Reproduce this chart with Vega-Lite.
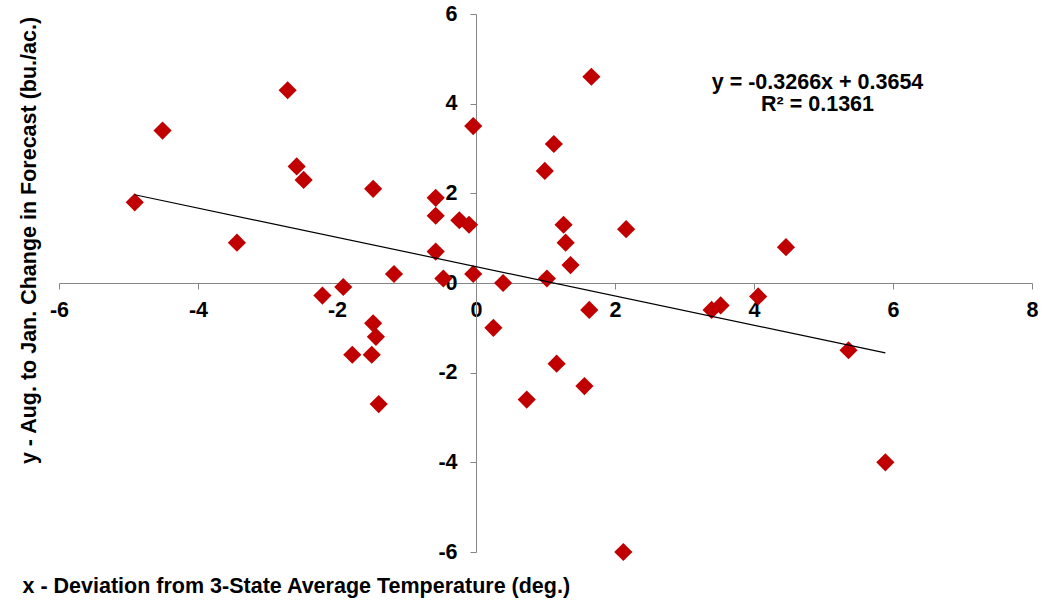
{
  "$schema": "https://vega.github.io/schema/vega-lite/v6.json",
  "autosize": {"type": "none"},
  "width": 973,
  "height": 538,
  "padding": {"left": 59, "top": 14, "right": 29, "bottom": 55},
  "background": "white",
  "config": {
    "view": {"stroke": null},
    "font": "Liberation Sans",
    "axis": {
      "grid": false,
      "domainColor": "#868686",
      "tickColor": "#868686",
      "tickSize": 6,
      "labelFont": "Liberation Sans",
      "labelFontSize": 21.5,
      "labelFontWeight": "bold",
      "labelColor": "black",
      "titleFont": "Liberation Sans",
      "titleFontSize": 21.5,
      "titleFontWeight": "bold",
      "titleColor": "black",
      "labelFlush": false,
      "labelOverlap": false,
      "labelExpr": "datum.value + ''"
    }
  },
  "datasets": {
    "points": [
      {"temp": -4.91, "change": 1.8},
      {"temp": -4.51, "change": 3.4},
      {"temp": -2.71, "change": 4.3},
      {"temp": -2.58, "change": 2.6},
      {"temp": -2.48, "change": 2.3},
      {"temp": -3.44, "change": 0.9},
      {"temp": -1.91, "change": -0.09},
      {"temp": -2.21, "change": -0.28},
      {"temp": -1.48, "change": 2.1},
      {"temp": -0.58, "change": 1.9},
      {"temp": -0.58, "change": 1.5},
      {"temp": -0.24, "change": 1.4},
      {"temp": -0.1, "change": 1.3},
      {"temp": -0.04, "change": 3.5},
      {"temp": -0.58, "change": 0.7},
      {"temp": -1.18, "change": 0.2},
      {"temp": -0.47, "change": 0.1},
      {"temp": -0.04, "change": 0.2},
      {"temp": 0.39, "change": 0.0},
      {"temp": 1.02, "change": 0.1},
      {"temp": 0.99, "change": 2.5},
      {"temp": 1.12, "change": 3.1},
      {"temp": 1.66, "change": 4.6},
      {"temp": 1.26, "change": 1.3},
      {"temp": 1.29, "change": 0.9},
      {"temp": 1.36, "change": 0.4},
      {"temp": 2.16, "change": 1.2},
      {"temp": 4.46, "change": 0.8},
      {"temp": 4.06, "change": -0.3},
      {"temp": 3.39, "change": -0.6},
      {"temp": 3.52, "change": -0.5},
      {"temp": 5.36, "change": -1.5},
      {"temp": 5.89, "change": -4.0},
      {"temp": 1.63, "change": -0.6},
      {"temp": 0.25, "change": -1.0},
      {"temp": 1.16, "change": -1.8},
      {"temp": 1.56, "change": -2.3},
      {"temp": 0.73, "change": -2.6},
      {"temp": 2.12, "change": -6.0},
      {"temp": -1.48, "change": -0.9},
      {"temp": -1.44, "change": -1.2},
      {"temp": -1.78, "change": -1.6},
      {"temp": -1.5, "change": -1.6},
      {"temp": -1.4, "change": -2.7}
    ],
    "trend": [
      {"temp": -4.91, "change": 1.969},
      {"temp": 5.89, "change": -1.558}
    ],
    "eq": [
      {"label": "y = -0.3266x + 0.3654\nR² = 0.1361"}
    ]
  },
  "layer": [
    {
      "data": {"name": "points"},
      "mark": {"type": "point", "shape": "diamond", "filled": true, "color": "#C00000", "size": 330, "opacity": 1},
      "encoding": {
        "x": {
          "field": "temp",
          "type": "quantitative",
          "scale": {"domain": [-6, 8], "nice": false, "zero": false},
          "axis": {
            "values": [-6, -4, -2, 0, 2, 4, 6, 8],
            "offset": -269,
            "labelPadding": 10,
            "title": "x - Deviation from 3-State Average Temperature (deg.)",
            "titleX": -37,
            "titleY": 309,
            "titleAlign": "left",
            "titleBaseline": "alphabetic",
            "titleAnchor": "start"
          }
        },
        "y": {
          "field": "change",
          "type": "quantitative",
          "scale": {"domain": [-6, 6], "nice": false, "zero": false},
          "axis": {
            "values": [-6, -4, -2, 0, 2, 4, 6],
            "offset": -417,
            "labelPadding": 13,
            "title": "y - Aug. to Jan. Change in Forecast (bu./ac.)",
            "titleX": -447,
            "titleY": 226,
            "titleAngle": -90,
            "titleAlign": "center",
            "titleBaseline": "middle"
          }
        }
      }
    },
    {
      "data": {"name": "trend"},
      "mark": {"type": "line", "color": "black", "strokeWidth": 1.2},
      "encoding": {
        "x": {"field": "temp", "type": "quantitative"},
        "y": {"field": "change", "type": "quantitative"}
      }
    },
    {
      "data": {"name": "eq"},
      "mark": {"type": "text", "lineBreak": "\n", "lineHeight": 22, "fontSize": 21.5, "fontWeight": "bold", "font": "Liberation Sans", "align": "center", "baseline": "middle", "color": "black"},
      "encoding": {
        "x": {"datum": 4.914, "type": "quantitative"},
        "y": {"datum": 4.46, "type": "quantitative"},
        "text": {"field": "label"}
      }
    }
  ]
}
